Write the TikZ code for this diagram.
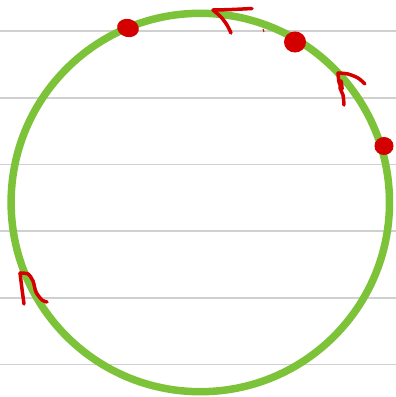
\documentclass[tikz,border=0pt]{standalone}
\definecolor{ringgreen}{RGB}{125,195,58}
\definecolor{inkred}{RGB}{212,0,0}
\definecolor{rulegray}{RGB}{208,208,208}
\tikzset{
  ruleline/.style={rulegray, line width=1.8pt},
  ring/.style={ringgreen, line width=7.5pt},
  inkstroke/.style={inkred, line width=3.5pt, line cap=round, line join=round},
  inkdot/.style={fill=inkred, draw=inkred, line width=1pt}
}
\begin{document}
\begin{tikzpicture}[x=1pt, y=-1pt]
\useasboundingbox (0,0) rectangle (396,397);
% ruled paper
\foreach \k in {0,...,5}
  \draw[ruleline] (0,31+66.7*\k) -- (396,31+66.7*\k);
% the ring
\draw[ring] (200.3,202.5) circle[radius=189.2];
% dots on the ring
\fill[inkdot] (128,28) ellipse[x radius=10.5, y radius=8.5, rotate=-15];
\fill[inkdot] (295,42) ellipse[x radius=10.5, y radius=10];
\fill[inkdot] (384,146) ellipse[x radius=9, y radius=8.5];
% hand drawn arrow heads
\draw[inkstroke] plot[smooth] coordinates {(252,8.5) (232,9.5) (213,10)};
\draw[inkstroke] plot[smooth] coordinates {(213,10) (221,17) (227,25) (231,33)};
\draw[inkstroke] plot[smooth] coordinates {(365,84) (358,78) (348,74) (338,73)};
\draw[inkstroke] plot[smooth] coordinates {(338,73) (339,82) (342,89) (341,81) (340,88) (343,95) (344,105)};
\draw[inkstroke] plot[smooth] coordinates {(20,273) (22,289) (24,304)};
\draw[inkstroke] plot[smooth] coordinates {(20,273) (28,274) (33,281) (36,292) (42,300) (47,302)};
\draw[inkred, line width=1pt] (263,29) -- (264,32);
\end{tikzpicture}
\end{document}
